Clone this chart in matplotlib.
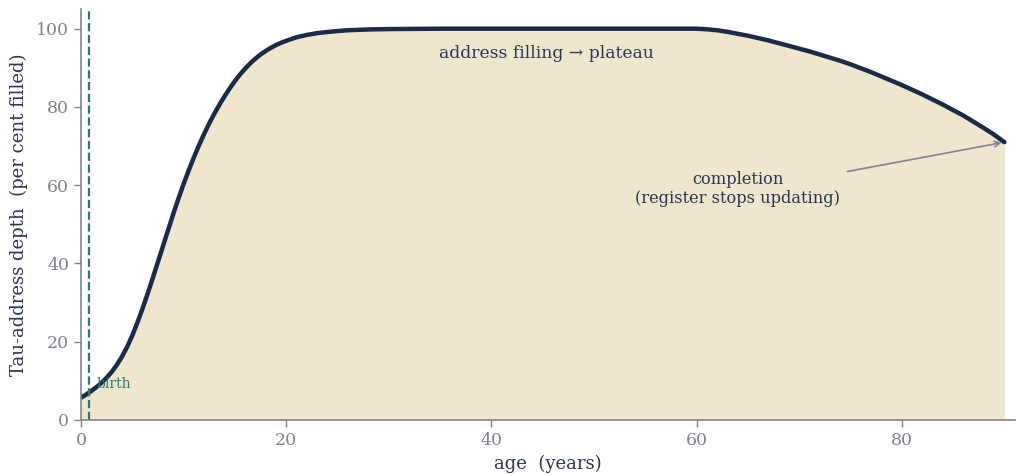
import matplotlib
matplotlib.use("Agg")
import matplotlib.pyplot as plt

plt.rcParams["font.family"] = "DejaVu Serif"

# age (years) and tau-address depth (per cent filled)
rise_age = [0, 0.5, 1, 1.5, 2, 2.5, 3, 3.5, 4, 4.5, 5, 5.5, 6, 6.5, 7, 7.5,
            8, 8.5, 9, 9.5, 10, 10.5, 11, 11.5, 12, 12.5, 13, 13.5, 14, 14.5,
            15, 15.5, 16, 16.5, 17, 17.5, 18, 18.5, 19, 19.5, 20, 21, 22, 23,
            24, 25, 26, 28, 30, 35, 40, 50]
rise_depth = [5.7, 6.5, 7.4, 8.4, 9.5, 10.8, 12.3, 14.1, 16.2, 18.7, 21.6,
              24.9, 28.5, 32.3, 36.3, 40.4, 44.5, 48.6, 52.7, 56.6, 60.3,
              63.8, 67.1, 70.2, 73.1, 75.8, 78.3, 80.6, 82.75, 84.75, 86.6,
              88.3, 89.8, 91.15, 92.35, 93.4, 94.3, 95.1, 95.8, 96.4, 96.9,
              97.8, 98.4, 98.85, 99.15, 99.4, 99.6, 99.8, 99.9, 100, 100, 100]
fall_age = [60, 61, 62, 63, 64, 65, 66, 67, 68, 69, 70, 71, 72, 73, 74, 75,
            76, 77, 78, 79, 80, 81, 82, 83, 84, 85, 86, 87, 88, 89, 90]
fall_depth = [100, 99.85, 99.6, 99.2, 98.7, 98.2, 97.6, 97.0, 96.3, 95.6,
              94.9, 94.2, 93.4, 92.6, 91.8, 90.9, 89.9, 88.9, 87.8, 86.7,
              85.6, 84.4, 83.2, 81.9, 80.6, 79.2, 77.8, 76.2, 74.6, 72.9, 71.0]
age = rise_age + fall_age
depth = rise_depth + fall_depth

birth_age = 0.75
end_age = 90
end_depth = 71.0

line_col = "#1c2a4a"
fill_col = "#eee6cd"
teal = "#2a7a70"
grey = "#80838f"
text_col = "#2b3552"

fig = plt.figure(figsize=(10.16, 4.75), dpi=100)
ax = fig.add_axes([0.0797, 0.1158, 0.919, 0.865])

ax.fill_between(age, depth, 0, color=fill_col, lw=0)
ax.plot(age, depth, color=line_col, lw=3.2, solid_capstyle="round",
        solid_joinstyle="round")
ax.axvline(birth_age, color=teal, ls="--", lw=1.6)
ax.text(1.5, 9.2, "birth", color=teal, fontsize=10, va="center", ha="left")

ax.text(45.4, 93.6, "address filling \u2192 plateau", color=text_col,
        fontsize=12.3, ha="center", va="center")

ax.text(64, 59, "completion\n(register stops updating)", ha="center",
        va="center", fontsize=11.7, color=text_col)
ax.annotate("", xy=(end_age, end_depth), xytext=(74.7, 63.5),
            arrowprops=dict(arrowstyle="->", color=grey, lw=1.2,
                            shrinkA=0, shrinkB=2))

ax.set_xlim(0, 91)
ax.set_ylim(0, 105)
ax.set_xticks([0, 20, 40, 60, 80])
ax.set_yticks([0, 20, 40, 60, 80, 100])

for s in ["top", "right"]:
    ax.spines[s].set_visible(False)
for s in ["left", "bottom"]:
    ax.spines[s].set_color(grey)
    ax.spines[s].set_linewidth(1.2)
ax.tick_params(colors=grey, labelsize=12.5, length=5, width=1)

ax.set_xlabel("age  (years)", fontsize=13, color=text_col, labelpad=4)
ax.set_ylabel("Tau-address depth  (per cent filled)", fontsize=13,
              color=text_col, labelpad=6)

fig.savefig("out.png", dpi=100)
